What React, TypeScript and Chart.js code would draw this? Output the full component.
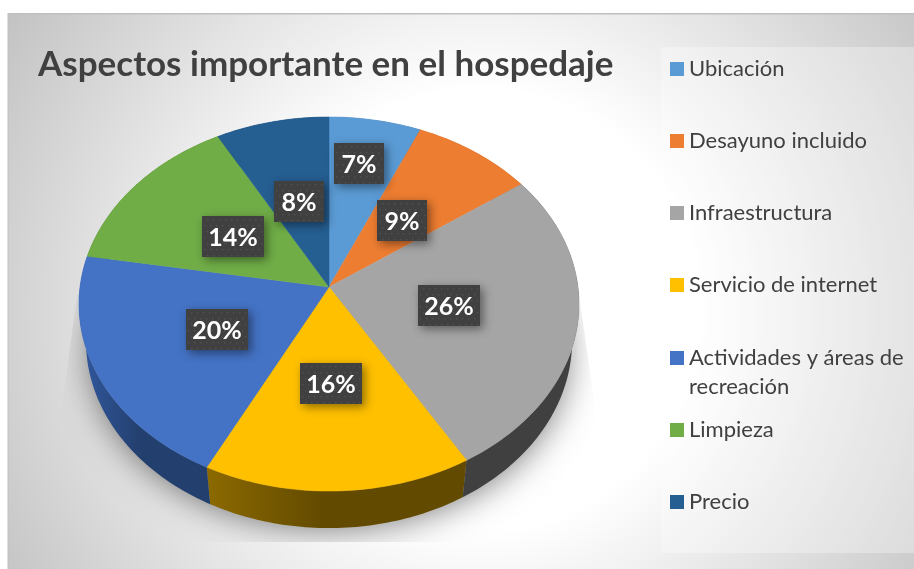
import React, { useEffect, useRef } from "react";
import { Chart, registerables } from "chart.js";

Chart.register(...registerables);

const titleText = "Aspectos importante en el hospedaje";
const categories = ["Ubicación", "Desayuno incluido", "Infraestructura", "Servicio de internet", "Actividades y áreas de recreación", "Limpieza", "Precio"];
const legendLines = [["Ubicación"], ["Desayuno incluido"], ["Infraestructura"], ["Servicio de internet"], ["Actividades y áreas de", "recreación"], ["Limpieza"], ["Precio"]];
const shares = [6.5, 8.6, 26.4, 15.95, 20.25, 14.3, 8.0];
const topColors = ["#5B9BD5", "#ED7D31", "#A5A5A5", "#FFC000", "#4472C4", "#70AD47", "#255E91"];
const wallFrom = ["#3B6F9F", "#A85A24", "#404040", "#8C6A00", "#305598", "#4E7A32", "#1A4368"];
const wallTo = ["#3B6F9F", "#A85A24", "#404040", "#624A00", "#233F6E", "#4E7A32", "#1A4368"];
const labelRadius = [0.72, 0.5, 0.5, 0.5, 0.5, 0.49, 0.5];
const labelNudgeX = [-4, -2, -3, -2, 2, 1, 0];
const labelNudgeY = [-1, 3, -1, -1, 0, 1, 1];
const legendCentersY = [69, 141, 213, 285, 358, 430, 502];

const VX = 329, VY = 287, A = 185.5, B = 249, K = -0.0909, DEPTH = 37, WALL_SCALE = 0.972;

function project(angle: number, r: number) {
  const u = Math.cos(angle) * r;
  const v = Math.sin(angle) * r;
  const d = 1 + K * v;
  return { x: VX + (B * u) / d, y: VY + (A * v) / d };
}

function rimPath(ctx: CanvasRenderingContext2D, a0: number, a1: number, first = true) {
  const n = Math.max(2, Math.ceil(((a1 - a0) * 180) / Math.PI));
  for (let i = 0; i <= n; i++) {
    const p = project(a0 + ((a1 - a0) * i) / n, 1);
    if (i === 0 && first) ctx.moveTo(p.x, p.y);
    else ctx.lineTo(p.x, p.y);
  }
}

const scene = {
  id: "scene",
  beforeDraw(chart: any) {
    const ctx: CanvasRenderingContext2D = chart.ctx;
    const W = chart.width, H = chart.height;
    ctx.save();
    ctx.fillStyle = "#ffffff";
    ctx.fillRect(0, 0, W, H);
    const g = ctx.createRadialGradient(480, 310, 220, 480, 310, 560);
    g.addColorStop(0, "#ffffff");
    g.addColorStop(1, "#c2c2c2");
    ctx.fillStyle = g;
    ctx.fillRect(8, 14, W - 8, H - 14);
    ctx.fillStyle = "#bfbfbf";
    ctx.fillRect(8, 13, W - 8, 1.5);
    ctx.fillRect(7.5, 13, 1, H - 13);
    ctx.fillStyle = "rgba(255,255,255,0.3)";
    ctx.fillRect(661, 47, W - 661, 506);
    // soft floor shadow under the pie
    ctx.beginPath();
    ctx.moveTo(77, 295);
    ctx.lineTo(63, 400);
    ctx.lineTo(63, 542);
    ctx.lineTo(594, 542);
    ctx.lineTo(594, 400);
    ctx.lineTo(579, 295);
    ctx.closePath();
    ctx.clip();
    ctx.shadowColor = "rgba(0,0,0,0.6)";
    ctx.shadowBlur = 36;
    ctx.fillStyle = "#999";
    ctx.beginPath();
    ctx.ellipse(329, 352, 236, 174, 0, 0, Math.PI * 2);
    ctx.fill();
    ctx.restore();
  },
  beforeDatasetsDraw(chart: any) {
    const ctx: CanvasRenderingContext2D = chart.ctx;
    const arcs = chart.getDatasetMeta(0).data;
    ctx.save();
    arcs.forEach((arc: any, i: number) => {
      const { startAngle: s, endAngle: e } = arc.getProps(["startAngle", "endAngle"], true);
      const p0 = project(s, 1), p1 = project(e, 1);
      const g = ctx.createLinearGradient(Math.min(p0.x, p1.x), 0, Math.max(p0.x, p1.x), 0);
      g.addColorStop(0, wallFrom[i]);
      g.addColorStop(0.45, wallTo[i]);
      g.addColorStop(1, wallTo[i]);
      ctx.fillStyle = g;
      ctx.beginPath();
      rimPath(ctx, s, e);
      const n = Math.max(2, Math.ceil(((e - s) * 180) / Math.PI));
      for (let j = n; j >= 0; j--) {
        const p = project(s + ((e - s) * j) / n, 1);
        ctx.lineTo(VX + (p.x - VX) * WALL_SCALE, p.y + DEPTH);
      }
      ctx.closePath();
      ctx.fill();
    });
    arcs.forEach((arc: any, i: number) => {
      const { startAngle: s, endAngle: e } = arc.getProps(["startAngle", "endAngle"], true);
      ctx.fillStyle = topColors[i];
      ctx.strokeStyle = topColors[i];
      ctx.lineWidth = 0.5;
      ctx.beginPath();
      ctx.moveTo(VX, VY);
      rimPath(ctx, s, e, false);
      ctx.closePath();
      ctx.fill();
      ctx.stroke();
    });
    ctx.restore();
    return false;
  },
  afterDraw(chart: any) {
    const ctx: CanvasRenderingContext2D = chart.ctx;
    const arcs = chart.getDatasetMeta(0).data;
    const values: number[] = chart.data.datasets[0].data;
    ctx.save();
    arcs.forEach((arc: any, i: number) => {
      const { startAngle: s, endAngle: e } = arc.getProps(["startAngle", "endAngle"], true);
      const p = project((s + e) / 2, labelRadius[i]);
      const text = `${Math.round(values[i])}%`;
      const w = text.length > 2 ? 62 : 50, h = 41;
      const x = Math.round(p.x + labelNudgeX[i] - w / 2), y = Math.round(p.y + labelNudgeY[i] - h / 2);
      ctx.save();
      ctx.shadowColor = "rgba(0,0,0,0.45)";
      ctx.shadowBlur = 9;
      ctx.shadowOffsetX = 3;
      ctx.shadowOffsetY = 3;
      ctx.fillStyle = "#404040";
      ctx.fillRect(x, y, w, h);
      ctx.restore();
      ctx.fillStyle = "#525252";
      for (let dy = 3; dy < h; dy += 6) {
        for (let dx = (Math.round(dy / 6) % 2) * 3 + 2; dx < w; dx += 6) {
          ctx.fillRect(x + dx, y + dy, 1.4, 1.4);
        }
      }
      ctx.fillStyle = "#ffffff";
      ctx.font = "bold 25px Lato";
      ctx.textAlign = "center";
      ctx.textBaseline = "middle";
      ctx.fillText(text, x + w / 2, y + h / 2 + 1);
    });
    // legend
    ctx.font = "22px Lato";
    ctx.textAlign = "left";
    ctx.textBaseline = "middle";
    legendLines.forEach((lines, i) => {
      const cy = legendCentersY[i];
      ctx.fillStyle = topColors[i];
      ctx.fillRect(670, cy - 7, 14, 14);
      ctx.fillStyle = "#404040";
      lines.forEach((t, j) => ctx.fillText(t, 689, cy + j * 29));
    });
    ctx.restore();
  },
};

export default function App() {
  const ref = useRef<HTMLCanvasElement>(null);
  useEffect(() => {
    const chart = new Chart(ref.current!, {
      type: "pie",
      data: {
        labels: categories,
        datasets: [{ data: shares, backgroundColor: topColors, borderWidth: 0 }],
      },
      options: {
        animation: false,
        responsive: false,
        devicePixelRatio: 1,
        layout: { padding: { left: 38, top: 44 } },
        plugins: {
          legend: { display: false },
          tooltip: { enabled: false },
          title: {
            display: true,
            text: titleText,
            align: "start",
            color: "#404040",
            padding: 0,
            font: { family: "Lato", size: 35, weight: "bold" },
          },
        },
      },
      plugins: [scene],
    } as any);
    return () => chart.destroy();
  }, []);
  return (
    <div style={{ position: "absolute", left: 0, top: 0, width: 914, height: 569 }}>
      <canvas ref={ref} width={914} height={569} style={{ display: "block" }} />
    </div>
  );
}
